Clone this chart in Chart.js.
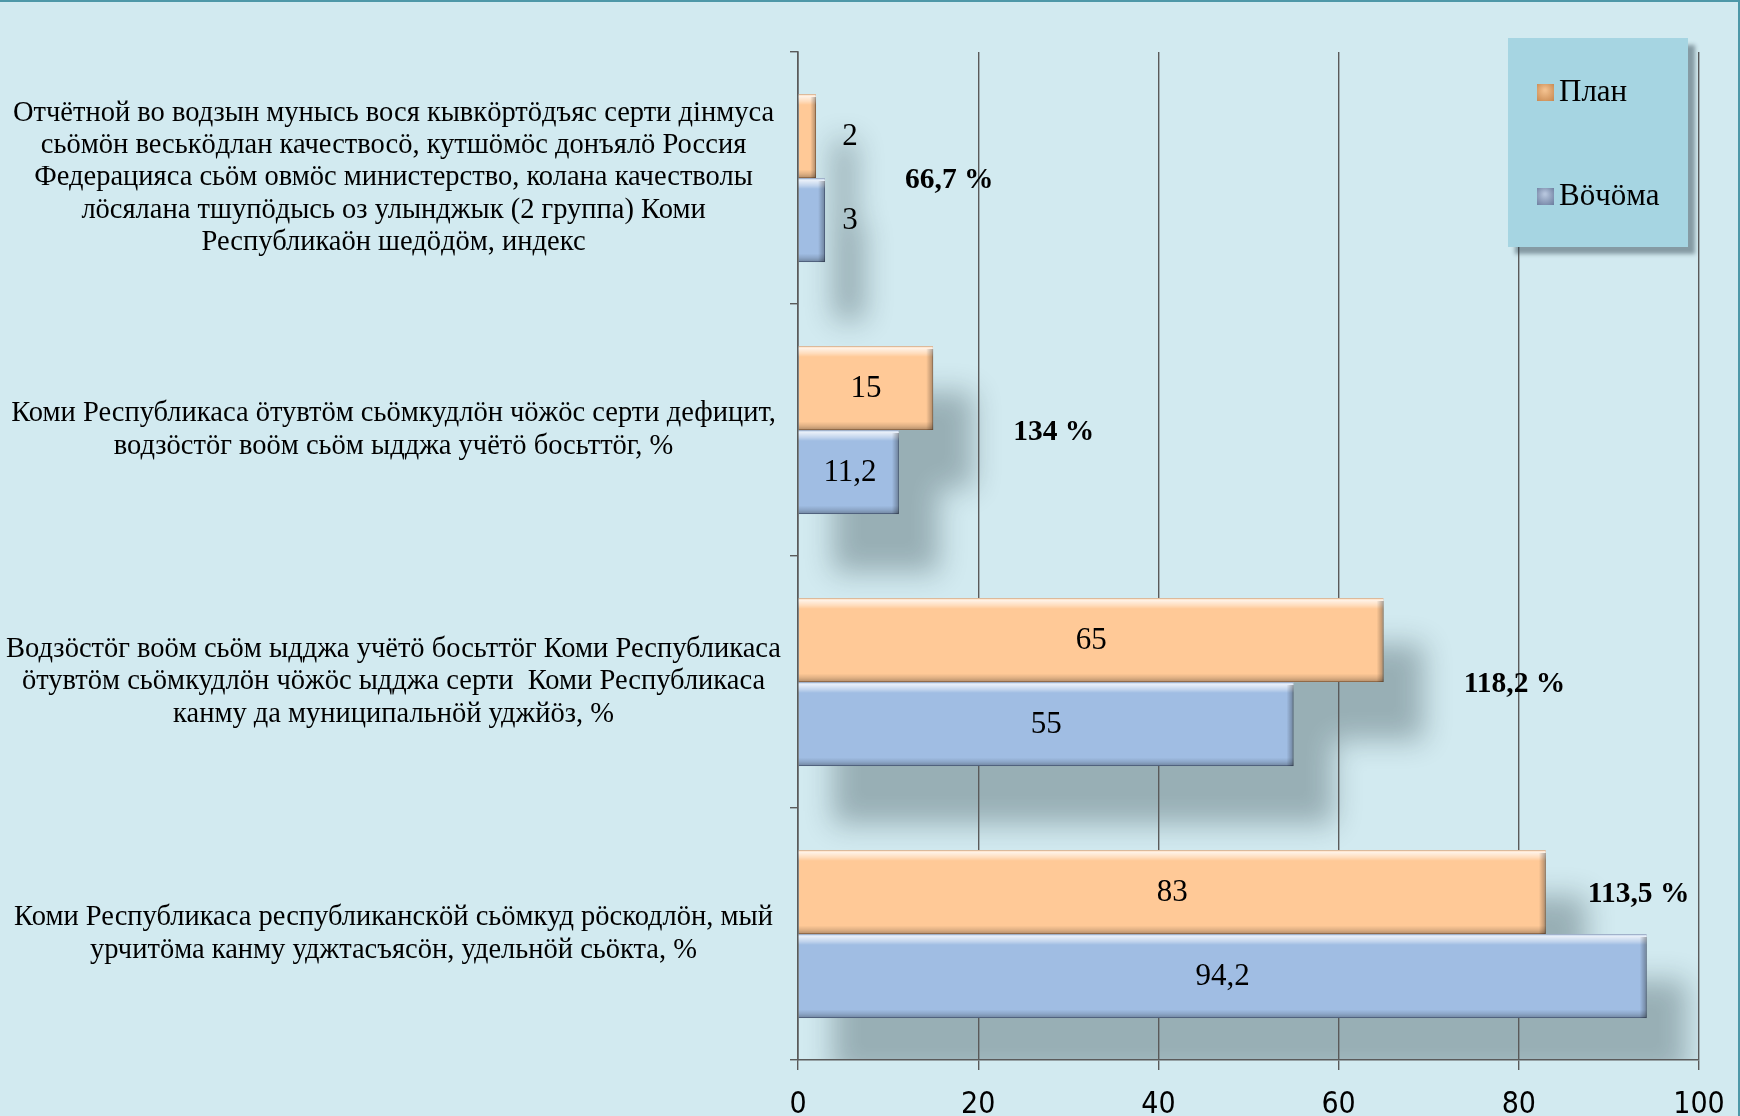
<!DOCTYPE html>
<html>
<head>
<meta charset="utf-8">
<script src="https://cdn.jsdelivr.net/npm/chart.js@4.4.1/dist/chart.umd.min.js"></script>
<style>
  html, body { margin: 0; padding: 0; background: #D2EAF0; overflow: hidden; }
  #wrap { position: relative; width: 1740px; height: 1116px; overflow: hidden; }
  #chart { position: absolute; left: 0; top: 0; }
  #frame { position: absolute; left: 0; top: 0; width: 1740px; height: 1116px; box-sizing: border-box;
           border-top: 2px solid #4E98A8; border-right: 2px solid #4E98A8; pointer-events: none; }
</style>
</head>
<body>
<div id="wrap">
  <canvas id="chart" width="1740" height="1125"></canvas>
  <div id="frame"></div>
</div>
<script>
// категории (строки подписи разбиты как в оригинале)
const categories = [
  ["Отчётной во водзын мунысь вося кывкӧртӧдъяс серти дінмуса",
   "сьӧмӧн веськӧдлан качествосӧ, кутшӧмӧс донъялӧ Россия",
   "Федерацияса сьӧм овмӧс министерство, колана качестволы",
   "лӧсялана тшупӧдысь оз улынджык (2 группа) Коми",
   "Республикаӧн шедӧдӧм, индекс"],
  ["Коми Республикаса ӧтувтӧм сьӧмкудлӧн чӧжӧс серти дефицит,",
   "водзӧстӧг воӧм сьӧм ыдджа учётӧ босьттӧг, %"],
  ["Водзӧстӧг воӧм сьӧм ыдджа учётӧ босьттӧг Коми Республикаса",
   "ӧтувтӧм сьӧмкудлӧн чӧжӧс ыдджа серти  Коми Республикаса",
   "канму да муниципальнӧй уджйӧз, %"],
  ["Коми Республикаса республиканскӧй сьӧмкуд рӧскодлӧн, мый",
   "урчитӧма канму уджтасъясӧн, удельнӧй сьӧкта, %"]
];
const planValues = [2, 15, 65, 83];
const factValues = [3, 11.2, 55, 94.2];
const percentLabels = ["66,7 %", "134 %", "118,2 %", "113,5 %"];
const xTicks = [0, 20, 40, 60, 80, 100];
const seriesNames = ["План", "Вӧчӧма"];

const SERIF = "'Liberation Serif', 'Times New Roman', serif";
const fmt = v => String(v).replace(".", ",");

function barBox(bar) {
  const x = Math.min(bar.x, bar.base);
  return { x: x, y: bar.y - bar.height / 2, w: Math.abs(bar.x - bar.base), h: bar.height };
}

// размытая тень под столбиками (рисуется до сетки)
const shadowPlugin = {
  id: "barShadow",
  beforeDraw(chart) {
    const ctx = chart.ctx, a = chart.chartArea;
    ctx.save();
    ctx.beginPath();
    ctx.rect(a.left, a.top, a.right - a.left, a.bottom - a.top);
    ctx.clip();
    ctx.shadowColor = "rgba(20,40,45,0.30)";
    ctx.shadowBlur = 28;
    ctx.shadowOffsetX = 34 + 5000;
    ctx.shadowOffsetY = 46;
    ctx.fillStyle = "#000";
    ctx.beginPath();
    chart.data.datasets.forEach((ds, i) => {
      chart.getDatasetMeta(i).data.forEach(bar => {
        const b = barBox(bar);
        ctx.rect(b.x - 5000, b.y, b.w + 6, b.h + 12);
      });
    });
    ctx.fill();
    ctx.restore();
  }
};

// объём столбиков + подписи значений и процентов
const labelPlugin = {
  id: "barLabels",
  afterDatasetsDraw(chart) {
    const ctx = chart.ctx, a = chart.chartArea;
    const x0 = chart.scales.x.getPixelForValue(0);
    ctx.save();
    chart.data.datasets.forEach((ds, i) => {
      chart.getDatasetMeta(i).data.forEach(bar => {
        const b = barBox(bar);
        let g = ctx.createLinearGradient(0, b.y, 0, b.y + b.h);
        g.addColorStop(0, "rgba(255,255,255,0.25)");
        g.addColorStop(0.03, "rgba(255,255,255,0.75)");
        g.addColorStop(0.09, "rgba(255,255,255,0.35)");
        g.addColorStop(0.13, "rgba(255,255,255,0)");
        g.addColorStop(0.9, "rgba(0,0,0,0)");
        g.addColorStop(0.95, "rgba(0,0,0,0.12)");
        g.addColorStop(1, "rgba(0,0,0,0.3)");
        ctx.fillStyle = g;
        ctx.fillRect(b.x, b.y, b.w, b.h);
        const e = Math.min(7, b.w / 3);
        let g2 = ctx.createLinearGradient(b.x + b.w - e, 0, b.x + b.w, 0);
        g2.addColorStop(0, "rgba(0,0,0,0)");
        g2.addColorStop(1, "rgba(0,0,0,0.32)");
        ctx.fillStyle = g2;
        ctx.fillRect(b.x + b.w - e, b.y + 3, e, b.h - 3);
      });
    });

    ctx.fillStyle = "#000";
    ctx.textAlign = "center";
    ctx.textBaseline = "middle";
    ctx.font = "31px " + SERIF;
    chart.data.datasets.forEach((ds, i) => {
      chart.getDatasetMeta(i).data.forEach((bar, j) => {
        const cx = Math.max((bar.x + bar.base) / 2, x0 + 52);
        ctx.fillText(fmt(ds.data[j]), cx, bar.y + 1);
      });
    });

    ctx.font = "bold 29.5px " + SERIF;
    ctx.textAlign = "left";
    const plan = chart.getDatasetMeta(0).data, fact = chart.getDatasetMeta(1).data;
    percentLabels.forEach((txt, j) => {
      const w = ctx.measureText(txt).width;
      const end = Math.max(plan[j].x, fact[j].x);
      let x = end + 80, y = (plan[j].y + fact[j].y) / 2;
      if (x + w > a.right) { x = plan[j].x + 42; y = plan[j].y; }
      ctx.fillText(txt, x, y + 2);
    });
    ctx.restore();
  },
  afterDraw(chart) {
    // легенда в рамке справа сверху
    const ctx = chart.ctx;
    const bx = 1508, by = 38, bw = 180, bh = 209;
    ctx.save();
    ctx.shadowColor = "rgba(40,60,70,0.45)";
    ctx.shadowOffsetX = 7; ctx.shadowOffsetY = 7; ctx.shadowBlur = 4;
    ctx.fillStyle = "#A6D5E2";
    ctx.fillRect(bx, by, bw, bh);
    ctx.restore();
    ctx.save();
    const marks = [["#F2C08E", "#C98A52"], ["#B5C4DC", "#6E7FA0"]];
    const rows = [92, 196];
    ctx.font = "31px " + SERIF;
    ctx.textBaseline = "middle";
    ctx.textAlign = "left";
    chart.data.datasets.forEach((ds, i) => {
      const my = rows[i] - 8;
      const g = ctx.createRadialGradient(1545, my + 6, 1, 1545, my + 8, 12);
      g.addColorStop(0, marks[i][0]);
      g.addColorStop(1, marks[i][1]);
      ctx.fillStyle = g;
      ctx.fillRect(1537, my, 17, 17);
      ctx.fillStyle = "#000";
      ctx.fillText(ds.label, 1559, rows[i] + 1);
    });
    ctx.restore();
  }
};

new Chart(document.getElementById("chart"), {
  type: "bar",
  data: {
    labels: categories,
    datasets: [
      { label: seriesNames[0], data: planValues, backgroundColor: "#FFC997", borderColor: "#C99364", borderWidth: 1 },
      { label: seriesNames[1], data: factValues, backgroundColor: "#A0BDE3", borderColor: "#6F88AE", borderWidth: 1 }
    ]
  },
  options: {
    indexAxis: "y",
    responsive: false,
    animation: false,
    devicePixelRatio: 1,
    categoryPercentage: 0.667,
    barPercentage: 1,
    layout: { padding: { top: 52, right: 41, left: 0, bottom: 0 } },
    plugins: { legend: { display: false }, tooltip: { enabled: false } },
    scales: {
      x: {
        min: 0, max: 100,
        afterBuildTicks: s => { s.ticks = xTicks.map(v => ({ value: v })); },
        afterFit: s => { s.height = 1125 - 1060; s.paddingLeft = 0; s.paddingRight = 0; },
        grid: { color: "#5A5A5A", lineWidth: 1.4, tickLength: 10, drawTicks: true },
        border: { color: "#5A5A5A", width: 1.6 },
        ticks: {
          color: "#000", padding: 17,
          font: { family: "'Liberation Sans Narrow', 'DejaVu Sans Condensed', sans-serif", size: 30 }
        }
      },
      y: {
        afterFit: s => { s.width = 798; s.paddingTop = 0; s.paddingBottom = 0; },
        grid: { drawOnChartArea: false, color: "#5A5A5A", lineWidth: 1.4, tickLength: 8 },
        border: { color: "#5A5A5A", width: 1.6 },
        ticks: {
          color: "#000", crossAlign: "center", padding: 9,
          font: { family: SERIF, size: 28.5, lineHeight: 1.13 }
        }
      }
    }
  },
  plugins: [shadowPlugin, labelPlugin]
});
</script>
</body>
</html>
